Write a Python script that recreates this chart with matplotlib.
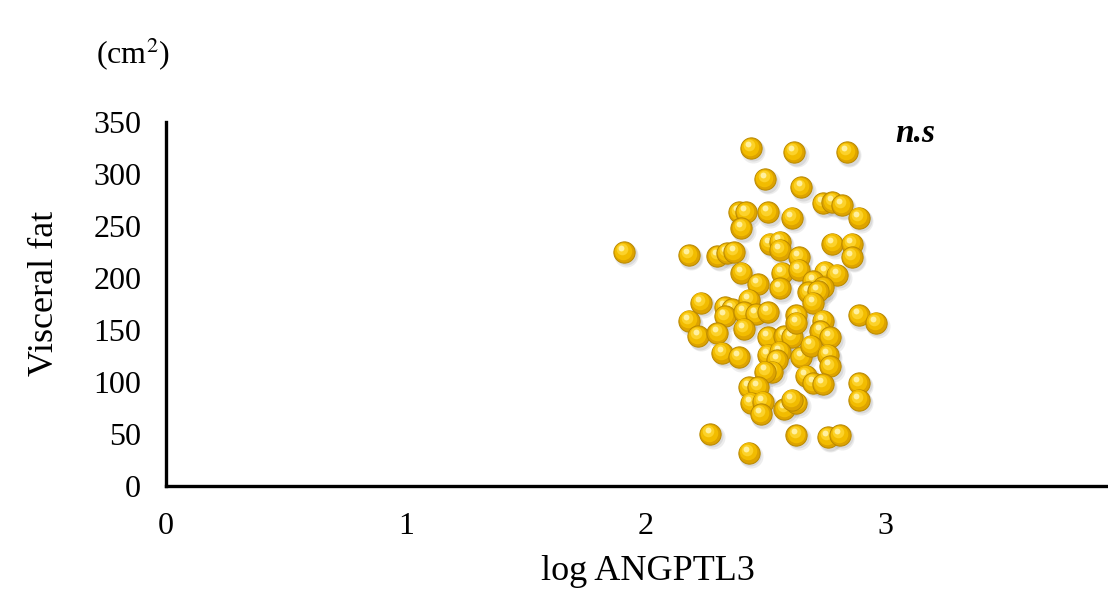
import matplotlib
matplotlib.use("Agg")
import matplotlib.pyplot as plt
import matplotlib.transforms as mtransforms
import numpy as np

plt.rcParams['font.family'] = ['Liberation Serif', 'DejaVu Serif']
plt.rcParams['mathtext.fontset'] = 'stix'

# log ANGPTL3 vs visceral fat (cm2)
log_angptl3 = [2.44, 2.62, 2.84, 2.50, 2.65, 2.39, 2.42, 2.51, 2.61, 2.74,
               2.78, 2.82, 2.89, 2.40, 1.91, 2.18, 2.30, 2.34, 2.37, 2.40,
               2.52, 2.56, 2.56, 2.64, 2.78, 2.86, 2.86, 2.57, 2.64, 2.75,
               2.80, 2.47, 2.56, 2.70, 2.74, 2.68, 2.72, 2.70, 2.23, 2.33,
               2.36, 2.43, 2.18, 2.33, 2.41, 2.46, 2.51, 2.22, 2.30, 2.41,
               2.51, 2.58, 2.61, 2.63, 2.63, 2.74, 2.73, 2.77, 2.89, 2.96,
               2.32, 2.39, 2.51, 2.56, 2.65, 2.69, 2.76, 2.77, 2.55, 2.53,
               2.50, 2.67, 2.70, 2.74, 2.43, 2.47, 2.44, 2.49, 2.48, 2.58,
               2.63, 2.61, 2.89, 2.89, 2.27, 2.63, 2.76, 2.81, 2.43]
visceral_fat = [325, 321, 321, 295, 287, 263, 263, 263, 258, 272,
                273, 270, 258, 248, 225, 222, 221, 224, 225, 205,
                233, 235, 227, 220, 233, 233, 220, 205, 208, 206,
                203, 194, 190, 197, 191, 186, 187, 176, 176, 172,
                170, 179, 159, 163, 167, 165, 167, 144, 147, 151,
                143, 144, 143, 164, 157, 159, 149, 143, 164, 157,
                128, 124, 126, 129, 124, 135, 126, 115, 121, 110,
                110, 106, 99, 98, 95, 95, 80, 81, 69, 74,
                80, 83, 99, 83, 50, 49, 47, 49, 32]

x_ticks = [0, 1, 2, 3]
y_ticks = [0, 50, 100, 150, 200, 250, 300, 350]

fig = plt.figure(figsize=(11.08, 5.89), dpi=100)
ax = fig.add_axes([0.150, 0.175, 0.850, 0.618])

def shifted(dx, dy):
    return ax.transData + mtransforms.ScaledTranslation(dx / 72, dy / 72, fig.dpi_scale_trans)

# fake 3d golden balls: soft shadow, body, glow, highlight
for xv, yv in zip(log_angptl3, visceral_fat):
    ax.scatter([xv], [yv], s=300, color='#a0a0a0', alpha=0.18, linewidths=0,
               transform=shifted(1.8, -2.4), zorder=2)
    ax.scatter([xv], [yv], s=250, color='#a0a0a0', alpha=0.25, linewidths=0,
               transform=shifted(1.4, -1.8), zorder=2)
    ax.scatter([xv], [yv], s=235, color='#DDA300', edgecolors='#B88800',
               linewidths=0.7, zorder=3)
    ax.scatter([xv], [yv], s=160, color='#F2BC00', linewidths=0,
               transform=shifted(-0.6, 1.0), zorder=3)
    ax.scatter([xv], [yv], s=70, color='#FCD22A', linewidths=0,
               transform=shifted(-1.3, 2.0), zorder=3)
    ax.scatter([xv], [yv], s=18, color='#FFF0A0', linewidths=0,
               transform=shifted(-1.9, 2.9), zorder=3)

ax.set_xlim(0, 3.93)
ax.set_ylim(0, 350)
ax.set_xticks(x_ticks)
ax.set_yticks(y_ticks)
ax.tick_params(axis='both', length=0, labelsize=23)
ax.tick_params(axis='x', pad=19)
ax.tick_params(axis='y', pad=18)

for side in ['top', 'right']:
    ax.spines[side].set_visible(False)
for side in ['left', 'bottom']:
    ax.spines[side].set_linewidth(2.4)
    ax.spines[side].set_color('black')

ax.set_xlabel('log ANGPTL3', fontsize=26)
ax.set_ylabel('Visceral fat', fontsize=26)
ax.xaxis.set_label_coords(0.511, -0.19)
ax.yaxis.set_label_coords(-0.112, 0.53)

fig.text(0.120, 0.907, '(cm$^{2}$)', fontsize=23, ha='center', va='center')
fig.text(0.826, 0.774, 'n.s', fontsize=24, fontweight='bold', fontstyle='italic',
         ha='center', va='center')

fig.savefig('out.png', dpi=100)
